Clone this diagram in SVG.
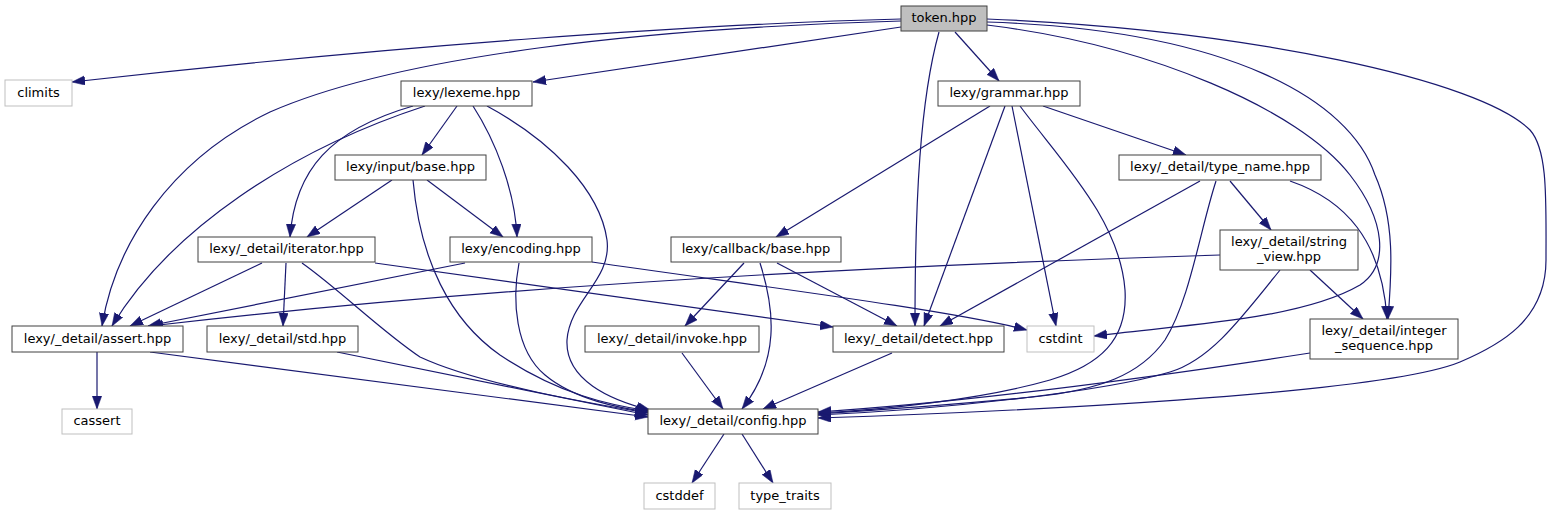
<svg xmlns="http://www.w3.org/2000/svg" width="1553" height="515" viewBox="0 0 1553 515">
<style>
.n rect{fill:#ffffff;stroke:#404040;stroke-width:1}
.g rect{fill:#ffffff;stroke:#bfbfbf;stroke-width:1}
.root rect{fill:#bfbfbf;stroke:#404040;stroke-width:1}
text{font-family:"DejaVu Sans","Liberation Sans",sans-serif;font-size:13px;fill:#000;text-anchor:middle}
#edges path{fill:none;stroke:#191970;stroke-width:1.2;marker-end:url(#ah)}
</style>
<defs>
<marker id="ah" markerUnits="userSpaceOnUse" markerWidth="14" markerHeight="10" refX="13" refY="4.7" orient="auto">
<path d="M0,0 L13,4.7 L0,9.4 z" fill="#191970" stroke="#191970" stroke-width="0.5"/>
</marker>
</defs>
<rect width="1553" height="515" fill="#ffffff"/>
<g id="edges">
<path d="M901,19 C700,24 400,45 72,82"/>
<path d="M901,21 C650,28 400,55 270,112 C170,160 115,245 102,326"/>
<path d="M901,27 L533,82"/>
<path d="M955,32 L999,81"/>
<path d="M939,32 C920,100 915,200 915,326"/>
<path d="M987,25 C1150,45 1300,110 1350,175 C1385,220 1390,265 1360,285 C1300,320 1180,325 1094,336"/>
<path d="M987,22 C1230,30 1350,100 1375,175 C1395,220 1392,270 1388,319"/>
<path d="M987,19 C1250,30 1480,80 1530,130 C1548,150 1546,200 1546,260 C1546,320 1500,345 1460,362 C1380,395 1000,412 818,418"/>
<path d="M457,106 L422,155"/>
<path d="M413,106 C330,130 295,170 290,237"/>
<path d="M425,106 C290,150 170,230 112,326"/>
<path d="M473,106 C495,140 515,190 517,237"/>
<path d="M487,106 C550,140 600,190 607,240 C612,280 570,300 567,340 C565,380 610,400 650,410"/>
<path d="M392,180 L307,237"/>
<path d="M427,180 L503,237"/>
<path d="M413,180 C420,260 450,320 500,355 C560,395 610,405 649,411"/>
<path d="M990,106 L776,237"/>
<path d="M1005,106 L924,326"/>
<path d="M1012,106 L1056,326"/>
<path d="M1020,106 C1060,160 1120,220 1125,290 C1128,340 1100,365 1050,380 C980,400 880,410 818,413"/>
<path d="M1043,106 L1186,155"/>
<path d="M1200,181 L940,326"/>
<path d="M1216,181 C1200,230 1190,300 1165,340 C1140,375 1100,390 1033,397 C950,405 880,410 818,414"/>
<path d="M1230,181 L1271,230"/>
<path d="M1290,181 C1345,200 1382,240 1387,319"/>
<path d="M1220,255 C900,265 500,285 150,326"/>
<path d="M1310,270 L1363,319"/>
<path d="M1280,270 C1240,320 1210,360 1170,372 C1100,393 930,410 818,415"/>
<path d="M262,263 L130,326"/>
<path d="M286,263 L283,326"/>
<path d="M302,263 C340,290 380,330 420,357 C480,385 600,405 648,413"/>
<path d="M375,263 L833,327"/>
<path d="M465,263 L148,326"/>
<path d="M592,262 C750,285 950,310 1027,330"/>
<path d="M519,263 C512,300 515,350 545,375 C575,400 620,408 648,412"/>
<path d="M744,263 L685,326"/>
<path d="M760,263 C775,310 780,360 742,409"/>
<path d="M777,263 L897,326"/>
<path d="M97,352 L97,409"/>
<path d="M150,352 L648,417"/>
<path d="M337,352 L648,415"/>
<path d="M682,353 L723,409"/>
<path d="M892,353 L763,409"/>
<path d="M1310,353 C1200,370 1000,400 818,412"/>
<path d="M724,434 L692,483"/>
<path d="M742,434 L773,483"/>
</g>
<g id="token" class="root"><rect x="901" y="6" width="86" height="25"/><text x="944" y="22">token.hpp</text></g>
<g id="climits" class="g"><rect x="5" y="80" width="67" height="26"/><text x="38.5" y="96.5">climits</text></g>
<g id="lexeme" class="n"><rect x="401" y="81" width="131" height="25"/><text x="466.5" y="97">lexy/lexeme.hpp</text></g>
<g id="grammar" class="n"><rect x="938" y="81" width="142" height="25"/><text x="1009" y="97">lexy/grammar.hpp</text></g>
<g id="input_base" class="n"><rect x="335" y="155" width="151" height="25"/><text x="410.5" y="171">lexy/input/base.hpp</text></g>
<g id="type_name" class="n"><rect x="1119" y="155" width="202" height="25"/><text x="1220" y="171">lexy/_detail/type_name.hpp</text></g>
<g id="iterator" class="n"><rect x="198" y="237" width="177" height="25"/><text x="286.5" y="253">lexy/_detail/iterator.hpp</text></g>
<g id="encoding" class="n"><rect x="450" y="237" width="142" height="25"/><text x="521" y="253">lexy/encoding.hpp</text></g>
<g id="callback_base" class="n"><rect x="671" y="237" width="170" height="25"/><text x="756" y="253">lexy/callback/base.hpp</text></g>
<g id="string_view" class="n"><rect x="1220" y="230" width="138" height="40"/><text x="1289" y="246">lexy/_detail/string</text><text x="1289" y="260.5">_view.hpp</text></g>
<g id="assert" class="n"><rect x="12" y="326" width="171" height="26"/><text x="97.5" y="342.5">lexy/_detail/assert.hpp</text></g>
<g id="std" class="n"><rect x="207" y="326" width="151" height="26"/><text x="282.5" y="342.5">lexy/_detail/std.hpp</text></g>
<g id="invoke" class="n"><rect x="585" y="326" width="174" height="26"/><text x="672" y="342.5">lexy/_detail/invoke.hpp</text></g>
<g id="detect" class="n"><rect x="833" y="326" width="171" height="26"/><text x="918.5" y="342.5">lexy/_detail/detect.hpp</text></g>
<g id="cstdint" class="g"><rect x="1027" y="326" width="67" height="26"/><text x="1060.5" y="342.5">cstdint</text></g>
<g id="integer_sequence" class="n"><rect x="1310" y="319" width="148" height="40"/><text x="1384" y="335">lexy/_detail/integer</text><text x="1384" y="349.5">_sequence.hpp</text></g>
<g id="config" class="n"><rect x="648" y="409" width="170" height="25"/><text x="733" y="425">lexy/_detail/config.hpp</text></g>
<g id="cassert" class="g"><rect x="62" y="409" width="70" height="25"/><text x="97" y="425">cassert</text></g>
<g id="cstddef" class="g"><rect x="644" y="483" width="71" height="26"/><text x="679.5" y="499.5">cstddef</text></g>
<g id="type_traits" class="g"><rect x="739" y="483" width="92" height="26"/><text x="785" y="499.5">type_traits</text></g>
</svg>
